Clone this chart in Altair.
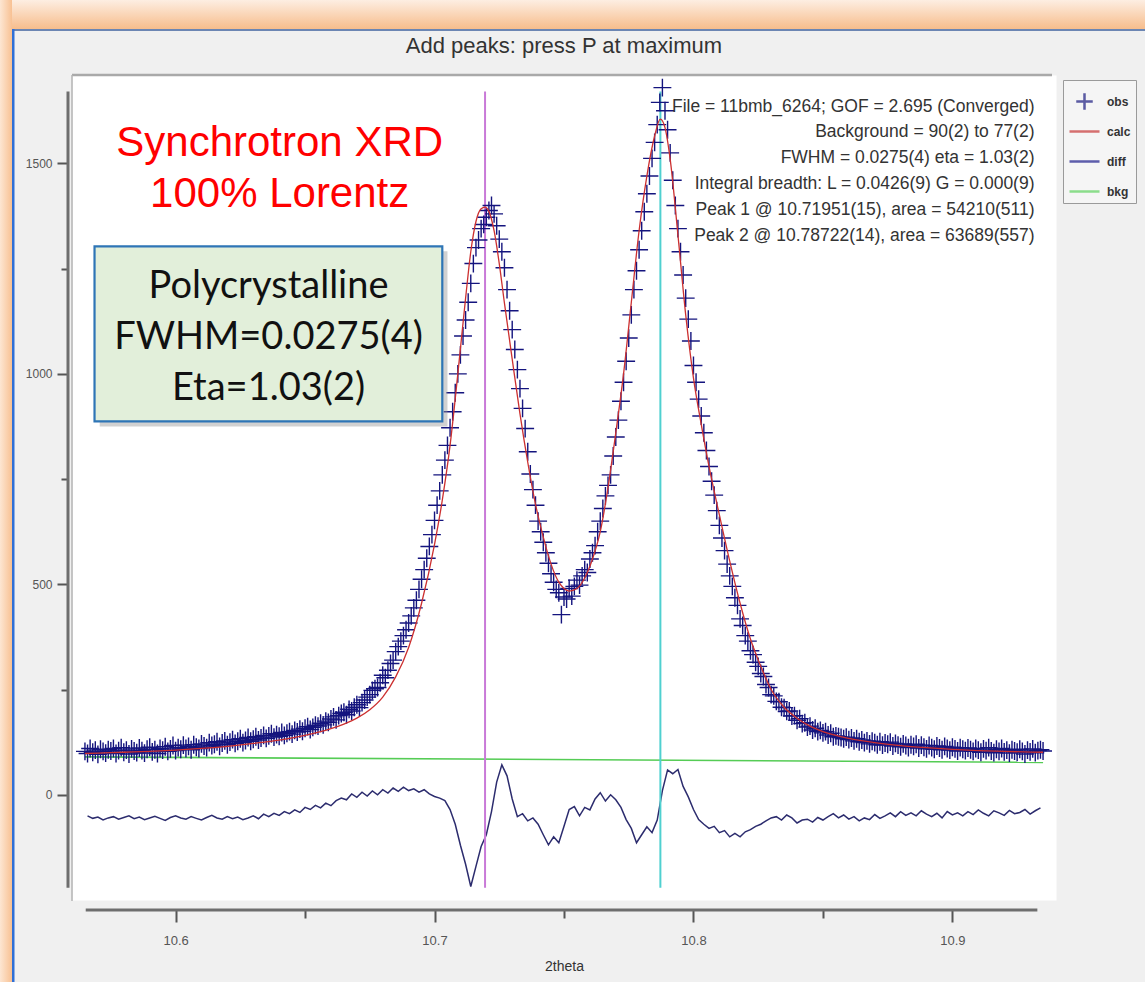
import altair as alt
import pandas as pd

# ---------------- data ----------------
obs_start = 10.565
obs_step = 0.001
obs_counts = [
    103, 98, 110, 101, 106, 96, 108, 103, 99, 107,
    104, 110, 98, 105, 112, 101, 106, 97, 109, 104,
    100, 111, 105, 99, 108, 113, 102, 107, 98, 110,
    106, 114, 103, 109, 117, 105, 112, 108, 118, 110,
    115, 107, 119, 113, 110, 121, 116, 112, 124, 117,
    120, 126, 115, 123, 128, 119, 125, 131, 122, 127,
    133, 124, 129, 136, 127, 132, 138, 130, 135, 141,
    134, 140, 145, 137, 143, 139, 148, 141, 146, 150,
    144, 153, 149, 156, 151, 158, 162, 155, 160, 165,
    163, 170, 166, 175, 172, 180, 185, 178, 188, 193,
    196, 190, 203, 199, 208, 214, 207, 219, 225, 232,
    238, 248, 252, 255, 266, 284, 278, 296, 312, 320,
    340, 352, 365, 378, 392, 408, 425, 444, 462, 488,
    512, 535, 562, 590, 618, 652, 688, 722, 760, 795,
    830, 872, 910, 955, 1000, 1045, 1090, 1128, 1170, 1215,
    1262, 1300, 1318, 1345, 1355, 1372, 1388, 1400, 1380, 1352,
    1320, 1290, 1252, 1200, 1150, 1105, 1058, 1010, 965, 918,
    870, 815, 762, 725, 688, 650, 625, 600, 575, 550,
    525, 505, 488, 480, 428, 470, 465, 490, 472, 495,
    510, 498, 520, 535, 528, 560, 575, 592, 625, 650,
    680, 710, 735, 760, 805, 850, 890, 935, 980, 1030,
    1085, 1140, 1200, 1245, 1295, 1340, 1385, 1428, 1470, 1512,
    1550, 1592, 1645, 1680, 1625, 1580, 1525, 1460, 1400, 1345,
    1290, 1235, 1180, 1130, 1078, 1020, 980, 940, 900, 860,
    818, 780, 745, 712, 675, 640, 610, 580, 548, 520,
    495, 468, 450, 418, 402, 378, 365, 342, 333, 315,
    305, 288, 281, 262, 255, 238, 235, 222, 221, 208,
    207, 198, 199, 187, 188, 177, 181, 169, 171, 161,
    163, 154, 158, 150, 153, 147, 150, 142, 146, 138,
    140, 138, 136, 133, 137, 131, 135, 128, 133, 126,
    130, 124, 128, 121, 127, 124, 119, 126, 118, 123,
    120, 125, 116, 122, 118, 114, 121, 117, 112, 119,
    115, 120, 111, 118, 113, 109, 117, 112, 108, 116,
    111, 107, 115, 110, 106, 113, 109, 104, 112, 108,
    105, 111, 107, 103, 110, 106, 101, 109, 105, 112,
    104, 100, 108, 103, 110, 102, 106, 99, 107, 104,
    101, 108, 103, 97, 106, 102, 109, 100, 105, 107,
    104,
]

calc_2theta = [
    10.565, 10.57, 10.58, 10.59, 10.60, 10.61, 10.62, 10.63, 10.64, 10.65,
    10.66, 10.665, 10.67, 10.675, 10.68, 10.685, 10.69, 10.695, 10.70, 10.703,
    10.706, 10.709, 10.712, 10.714, 10.716, 10.718, 10.7195, 10.721, 10.723, 10.725,
    10.727, 10.73, 10.733, 10.736, 10.739, 10.742, 10.745, 10.748, 10.75, 10.752,
    10.755, 10.758, 10.761, 10.764, 10.767, 10.77, 10.773, 10.776, 10.779, 10.782,
    10.785, 10.7872, 10.789, 10.791, 10.794, 10.797, 10.80, 10.803, 10.806, 10.81,
    10.814, 10.818, 10.822, 10.826, 10.83, 10.835, 10.84, 10.845, 10.85, 10.86,
    10.87, 10.88, 10.89, 10.90, 10.91, 10.92, 10.935,
]
calc_counts = [
    98, 99, 101, 103, 106, 110, 115, 122, 130, 141,
    157, 168, 182, 202, 232, 280, 350, 455, 595, 700,
    830, 1000, 1180, 1290, 1362, 1392, 1396, 1386, 1340, 1262,
    1168, 1035, 905, 790, 690, 612, 548, 505, 490, 484,
    490, 515, 560, 625, 730, 860, 1000, 1170, 1340, 1470,
    1565, 1605, 1585, 1510, 1330, 1140, 990, 880, 780, 665,
    555, 455, 370, 305, 250, 208, 182, 163, 150, 134,
    124, 117, 112, 108, 105, 103, 101,
]

diff_start = 10.566
diff_step = 0.002
diff_counts = [
    -50, -56, -53, -60, -55, -52, -58, -54, -50, -57,
    -53, -59, -55, -51, -56, -61, -54, -50, -55, -58,
    -52, -56, -60, -54, -49, -55, -58, -52, -57, -53,
    -59, -55, -50, -57, -46, -52, -44, -49, -40, -45,
    -36, -42, -30, -35, -25, -31, -20, -26, -14, -8,
    -12, 2, -6, 6, -3, 9, 0, 12, 4, 16,
    8, 18, 10, 14, 6, 12, 2, -4, -8, -14,
    -35, -70, -120, -165, -218, -170, -123, -95, -40, 30,
    71, 45, -10, -52, -45, -62, -55, -70, -95, -119,
    -100, -114, -75, -35, -28, -50, -30, -36, -10, 5,
    -15, 0, -12, -30, -59, -80, -114, -95, -76, -90,
    -60, 10, 59, 50, 60, 20, -5, -35, -59, -70,
    -80, -75, -90, -85, -100, -92, -100, -88, -83, -75,
    -70, -62, -55, -52, -60, -48, -55, -67, -60, -58,
    -65, -54, -60, -52, -45, -55, -48, -58, -52, -62,
    -55, -59, -47, -56, -50, -43, -52, -40, -49, -43,
    -50, -38, -46, -52, -44, -55, -40, -48, -43, -50,
    -40, -47, -36, -44, -50, -38, -43, -49, -37, -45,
    -42, -35, -46, -38, -31,
]

bkg_2theta = [10.565, 10.935]
bkg_counts = [90, 77]

peak_2theta = [10.71951, 10.78722]
peak_label = ["Peak 1", "Peak 2"]

series_names = ["obs", "calc", "diff", "bkg"]

x_tick_values = [10.6, 10.65, 10.7, 10.75, 10.8, 10.85, 10.9]
y_tick_values = [0, 250, 500, 750, 1000, 1250, 1500]

title_text = "Add peaks: press P at maximum"
x_title = "2theta"
info_lines = [
    "File = 11bmb_6264; GOF = 2.695 (Converged)",
    "Background = 90(2) to 77(2)",
    "FWHM = 0.0275(4) eta = 1.03(2)",
    "Integral breadth: L = 0.0426(9) G = 0.000(9)",
    "Peak 1 @ 10.71951(15), area = 54210(511)",
    "Peak 2 @ 10.78722(14), area = 63689(557)",
]
red_lines = ["Synchrotron XRD", "100% Lorentz"]
box_lines = ["Polycrystalline", "FWHM=0.0275(4)", "Eta=1.03(2)"]

# ---------------- tables ----------------
obs_df = pd.DataFrame({
    "x": [round(obs_start + i * obs_step, 4) for i in range(len(obs_counts))],
    "y": obs_counts,
})
calc_df = pd.DataFrame({"x": calc_2theta, "y": calc_counts})
diff_df = pd.DataFrame({
    "x": [round(diff_start + i * diff_step, 4) for i in range(len(diff_counts))],
    "y": diff_counts,
})
bkg_df = pd.DataFrame({"x": bkg_2theta, "y": bkg_counts})
peak1_df = pd.DataFrame({"x": peak_2theta[:1], "peak": peak_label[:1]})
peak2_df = pd.DataFrame({"x": peak_2theta[1:], "peak": peak_label[1:]})
legend_df = pd.DataFrame({"series": series_names})
one = pd.DataFrame({"k": [0]})

# ---------------- styling ----------------
W, H = 984, 825
C_OBS = "#14147e"
C_CALC = "#cc3030"
C_DIFF = "#2c2c6e"
C_BKG = "#55cc55"
C_P1 = "#c97ad8"
C_P2 = "#4fd0d0"
FONT = "Liberation Sans"

xs = alt.Scale(domain=[10.56, 10.94], nice=False, zero=False)
ys = alt.Scale(domain=[-250, 1710], nice=False, zero=False)

x_major = "abs(datum.value*10 - round(datum.value*10)) < 0.001"
x_axis = alt.Axis(
    values=x_tick_values,
    labelExpr=x_major + " ? format(datum.value, '.1f') : ''",
    tickSize={"condition": {"test": x_major, "value": 12}, "value": 8},
    tickColor="#555555", tickWidth=2, domain=False, grid=False,
    offset=10, labelPadding=12, labelFont=FONT, labelFontSize=13,
    labelColor="#555555", labelOverlap=False, labelFlush=False,
    titleFont=FONT, titleFontSize=14, titleFontWeight="normal",
    titleColor="#333333", titlePadding=12,
)
y_major = "datum.value % 500 === 0"
y_axis = alt.Axis(
    values=y_tick_values,
    labelExpr=y_major + " ? format(datum.value, 'd') : ''",
    tickSize={"condition": {"test": y_major, "value": 11}, "value": 7},
    tickColor="#555555", tickWidth=2, domain=False, grid=False,
    offset=4, labelPadding=5, labelFont=FONT, labelFontSize=12,
    labelColor="#555555", labelOverlap=False, labelFlush=False,
)


def X(field="x:Q"):
    return alt.X(field, scale=xs, axis=x_axis, title=x_title)


def Y(field="y:Q"):
    return alt.Y(field, scale=ys, axis=y_axis, title=None)


# frame decoration (screenshot window border)
grad_v = alt.LinearGradient(gradient="linear", x1=0, x2=0, y1=0, y2=1, stops=[
    alt.GradientStop(color="#fdeee2", offset=0),
    alt.GradientStop(color="#f7bd8c", offset=1)])
grad_h = alt.LinearGradient(gradient="linear", x1=0, x2=1, y1=0, y2=0, stops=[
    alt.GradientStop(color="#fde6d2", offset=0),
    alt.GradientStop(color="#f8c193", offset=1)])
top_stripe = alt.Chart(one).mark_rect(color=grad_v).encode(
    x=alt.value(-72), x2=alt.value(1073), y=alt.value(-75), y2=alt.value(-46))
left_stripe = alt.Chart(one).mark_rect(color=grad_h).encode(
    x=alt.value(-72), x2=alt.value(-60), y=alt.value(-75), y2=alt.value(907))
top_line = alt.Chart(one).mark_rect(color="#6c86b3").encode(
    x=alt.value(-60), x2=alt.value(1073), y=alt.value(-46), y2=alt.value(-44))
left_line = alt.Chart(one).mark_rect(color="#2f6fd6").encode(
    x=alt.value(-60), x2=alt.value(-57.5), y=alt.value(-46), y2=alt.value(907))
plot_top_edge = alt.Chart(one).mark_rule(color="#a9a9a9", strokeWidth=2.5).encode(
    x=alt.value(0), x2=alt.value(W - 4), y=alt.value(0))
plot_left_edge = alt.Chart(one).mark_rule(color="#b5b5b5", strokeWidth=1.5).encode(
    x=alt.value(0), y=alt.value(0), y2=alt.value(H + 1))

# data layers
bkg_layer = alt.Chart(bkg_df).mark_line(color=C_BKG, strokeWidth=1.6).encode(x=X(), y=Y())
diff_layer = alt.Chart(diff_df).mark_line(color=C_DIFF, strokeWidth=1.5).encode(x=X(), y=Y())
peak1_layer = alt.Chart(peak1_df).mark_rule(color=C_P1, strokeWidth=2).encode(
    x=X(), y=alt.datum(-221), y2=alt.datum(1671))
peak2_layer = alt.Chart(peak2_df).mark_rule(color=C_P2, strokeWidth=2).encode(
    x=X(), y=alt.datum(-221), y2=alt.datum(1671))
obs_layer = alt.Chart(obs_df).mark_point(
    shape="M-1,0H1M0,-1V1", size=320, filled=False, strokeWidth=1.4,
    color=C_OBS, opacity=1).encode(x=X(), y=Y())
calc_layer = alt.Chart(calc_df).mark_line(
    color=C_CALC, strokeWidth=1.3, interpolate="monotone").encode(x=X(), y=Y())

# axis lines (offset, shorter than the plot frame)
x_domain = alt.Chart(one).mark_rule(color="#6e6e6e", strokeWidth=3).encode(
    x=alt.datum(10.5653), x2=alt.datum(10.9328), y=alt.value(H + 10))
y_domain = alt.Chart(one).mark_rule(color="#6e6e6e", strokeWidth=3).encode(
    x=alt.value(-4), y=alt.datum(-221), y2=alt.datum(1671))

# annotations (multi-line text: y is the first line)
info_text = alt.Chart(one).mark_text(
    align="right", baseline="middle", font=FONT, fontSize=17.5,
    color="#333333", lineHeight=25.8).encode(
    x=alt.datum(10.9317), y=alt.datum(1635), text=alt.value(info_lines))
red_text = alt.Chart(one).mark_text(
    align="center", baseline="middle", font=FONT, fontSize=42,
    color="#ff0000", lineHeight=51).encode(
    x=alt.datum(10.6402), y=alt.datum(1549), text=alt.value(red_lines))
box_shadow = alt.Chart(one).mark_rect(color="#9a9a9a", opacity=0.45).encode(
    x=alt.datum(10.5707), x2=alt.datum(10.7050), y=alt.datum(875), y2=alt.datum(1291))
box = alt.Chart(one).mark_rect(fill="#e2efda", stroke="#2e75b6", strokeWidth=2.2).encode(
    x=alt.datum(10.5687), x2=alt.datum(10.7030), y=alt.datum(887), y2=alt.datum(1303))
box_text = alt.Chart(one).mark_text(
    align="center", baseline="middle", font="Lato", fontSize=38,
    color="#111111", lineHeight=51).encode(
    x=alt.datum(10.6359), y=alt.datum(1207), text=alt.value(box_lines))

# legend
leg = alt.Legend(
    title=None, orient="none", legendX=991, legendY=5,
    labelFont=FONT, labelFontSize=12, labelFontWeight="bold", labelColor="#333333",
    symbolSize=900, symbolStrokeWidth=2.5, padding=5, rowPadding=0, labelOffset=6,
    gridAlign="all",
    strokeColor="#9a9a9a", fillColor="#f5f5f5",
)
legend_layer = alt.Chart(legend_df).transform_filter("datum.series == 'none'").mark_point(
    filled=False).encode(
    x=alt.datum(10.7), y=alt.datum(500),
    color=alt.Color("series:N", scale=alt.Scale(
        domain=series_names, range=["#1a1a80", "#c83737", "#1e1e8c", "#5fd35f"]), legend=leg),
    shape=alt.Shape("series:N", scale=alt.Scale(
        domain=series_names, range=["M-0.55,0H0.55M0,-0.55V0.55", "stroke", "stroke", "stroke"]),
        legend=leg),
)

chart = alt.layer(
    top_stripe, left_stripe, top_line, left_line,
    plot_top_edge, plot_left_edge,
    bkg_layer, diff_layer, peak1_layer, peak2_layer, obs_layer, calc_layer,
    info_text, red_text, box_shadow, box, box_text,
    x_domain, y_domain, legend_layer,
).properties(
    width=W, height=H,
    title=alt.TitleParams(
        text=title_text, font=FONT, fontSize=22, fontWeight="normal",
        color="#333333", anchor="middle", frame="group",
        baseline="alphabetic", offset=0, dy=75),
    background="#f0f0f0",
    padding={"left": 72, "top": 75, "right": 89, "bottom": 82},
    autosize=alt.AutoSizeParams(type="none"),
).configure_view(fill="white", stroke="transparent")

chart.save("out.html", embed_options={"renderer": "svg", "actions": False})
